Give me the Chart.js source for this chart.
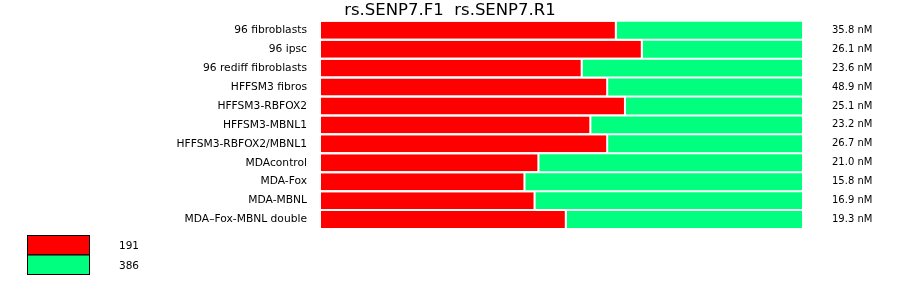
<!DOCTYPE html>
<html>
<head>
<meta charset="utf-8">
<script src="https://cdn.jsdelivr.net/npm/chart.js@4/dist/chart.umd.min.js"></script>
<style>
html,body{margin:0;padding:0;background:#fff;}
canvas{display:block;}
</style>
</head>
<body>
<canvas id="c" width="900" height="299"></canvas>
<script>
const categories = ["96 fibroblasts","96 ipsc","96 rediff fibroblasts","HFFSM3 fibros","HFFSM3-RBFOX2","HFFSM3-MBNL1","HFFSM3-RBFOX2/MBNL1","MDAcontrol","MDA-Fox","MDA-MBNL","MDA–Fox-MBNL double"];
const concLabels = ["35.8 nM","26.1 nM","23.6 nM","48.9 nM","25.1 nM","23.2 nM","26.7 nM","21.0 nM","15.8 nM","16.9 nM","19.3 nM"];
const series191 = [61.5,66.9,54.4,59.7,63.4,56.2,59.7,45.4,42.5,44.6,51.1];
const series386 = [38.5,33.1,45.6,40.3,36.6,43.8,40.3,54.6,57.5,55.4,48.9];
const seriesNames = ["191","386"];
const seriesColors = ["#ff0000","#00ff7f"];
const titleText = "rs.SENP7.F1  rs.SENP7.R1";

const FONT = "'DejaVu Sans', sans-serif";

const legendPlugin = {
  id: 'boxLegend',
  afterDraw(chart) {
    const ctx = chart.ctx;
    ctx.save();
    chart.data.datasets.forEach((ds, i) => {
      const x = 27.5, y = 235.5 + i * 19.5, w = 62, h = 19.5;
      ctx.fillStyle = ds.backgroundColor;
      ctx.fillRect(x, y, w, h);
      ctx.strokeStyle = '#000';
      ctx.lineWidth = 1;
      ctx.strokeRect(x, y, w, h);
      ctx.fillStyle = '#000';
      ctx.font = "10.5px " + FONT;
      ctx.textAlign = 'left';
      ctx.textBaseline = 'middle';
      ctx.fillText(ds.label, 119, 246 + i * 20);
    });
    ctx.restore();
  }
};

function noVPad(scale) {
  scale.paddingTop = 0;
  scale.paddingBottom = 0;
}

new Chart(document.getElementById('c'), {
  type: 'bar',
  data: {
    labels: categories,
    datasets: [
      {
        label: seriesNames[0],
        data: series191,
        backgroundColor: seriesColors[0],
        borderColor: '#ffffff',
        borderWidth: {top:0,right:2,bottom:0,left:0},
        borderSkipped: false,
        categoryPercentage: 1,
        barPercentage: 17/19
      },
      {
        label: seriesNames[1],
        data: series386,
        backgroundColor: seriesColors[1],
        borderWidth: 0,
        categoryPercentage: 1,
        barPercentage: 17/19
      }
    ]
  },
  options: {
    indexAxis: 'y',
    responsive: false,
    animation: false,
    events: [],
    layout: { padding: { top: 0, bottom: 70, left: 0, right: 0 } },
    plugins: {
      legend: { display: false },
      tooltip: { enabled: false },
      title: {
        display: true,
        text: titleText,
        color: '#000',
        font: { family: FONT, size: 16.5, weight: 'normal', lineHeight: 1.2 },
        padding: { top: 1, bottom: 0 }
      }
    },
    scales: {
      x: {
        stacked: true,
        display: false,
        min: 0,
        max: 100
      },
      y: {
        stacked: true,
        position: 'left',
        grid: { display: false, drawTicks: false },
        border: { display: false },
        ticks: { color: '#000', font: { family: FONT, size: 10.7 }, padding: 14, autoSkip: false },
        afterFit(scale) { scale.width = 321; noVPad(scale); }
      },
      y2: {
        type: 'category',
        position: 'right',
        display: true,
        labels: concLabels,
        grid: { display: false, drawTicks: false },
        border: { display: false },
        ticks: { color: '#000', font: { family: FONT, size: 10 }, padding: 30, autoSkip: false },
        afterFit(scale) { scale.width = 98; noVPad(scale); }
      }
    }
  },
  plugins: [legendPlugin]
});
</script>
</body>
</html>
